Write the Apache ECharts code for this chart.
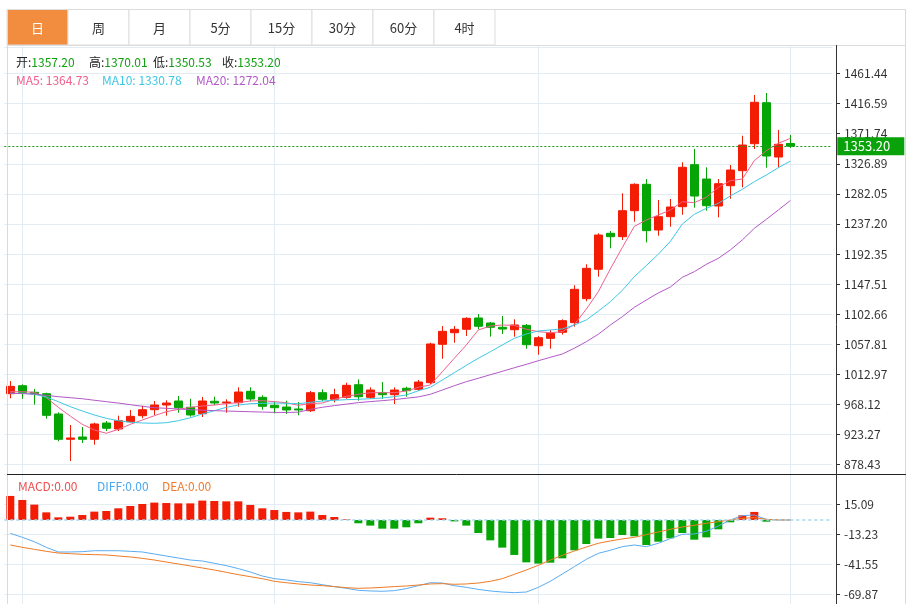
<!DOCTYPE html>
<html><head><meta charset="utf-8">
<script src="https://cdn.jsdelivr.net/npm/echarts@6/dist/echarts.min.js"></script>
<style>html,body{margin:0;padding:0;background:#fff}#c{width:912px;height:604px}</style>
</head><body><div id="c"></div>
<script>
const tabs = ['日','周','月','5分','15分','30分','60分','4时'];
const categories = ['1','2','3','4','5','6','7','8','9','10','11','12','13','14','15','16','17','18','19','20','21','22','23','24','25','26','27','28','29','30','31','32','33','34','35','36','37','38','39','40','41','42','43','44','45','46','47','48','49','50','51','52','53','54','55','56','57','58','59','60','61','62','63','64','65','66'];
const monthLines = [1, 22, 44, 65];
const priceTicks = ['878.43','923.27','968.12','1012.97','1057.81','1102.66','1147.51','1192.35','1237.20','1282.05','1326.89','1371.74','1416.59','1461.44'];
const macdTicks = ['-69.87','-41.55','-13.23','15.09'];

const opens = [983.8,995.7,985.9,983.8,953.5,915.7,919.2,915.7,940.0,931.1,942.0,951.0,959.9,966.9,972.9,963.5,953.9,972.5,969.9,970.4,987.4,978.4,966.5,963.9,961.0,958.4,985.3,975.4,978.4,997.2,978.4,985.3,982.3,991.9,990.3,1000.2,1057.5,1074.8,1079.9,1096.8,1089.3,1082.9,1079.3,1085.8,1055.4,1066.4,1075.4,1089.8,1125.6,1169.5,1223.2,1218.1,1256.9,1296.3,1228.1,1248.0,1262.9,1325.6,1304.2,1263.9,1294.2,1316.6,1356.9,1418.1,1337.0,1357.20];
const closes = [994.8,985.8,983.3,951.5,915.7,917.7,915.7,938.6,932.2,943.5,950.0,959.9,966.9,969.9,962.9,952.0,972.9,969.9,971.4,986.3,975.9,965.0,962.9,959.5,959.5,985.3,975.4,982.3,996.3,979.3,989.3,982.3,989.3,988.3,1001.2,1058.0,1076.9,1079.9,1096.3,1084.4,1082.9,1080.3,1086.3,1056.9,1067.4,1073.9,1092.8,1139.6,1170.9,1220.6,1218.1,1256.9,1296.3,1227.1,1248.0,1262.4,1321.7,1278.8,1264.4,1297.2,1317.6,1354.9,1418.7,1338.5,1356.0,1353.20];
const lows = [976.9,976.3,967.5,946.5,912.8,883.3,910.2,907.7,928.1,928.1,941.1,947.1,952.0,951.0,955.4,949.5,949.0,966.5,955.4,964.4,972.5,959.9,954.5,953.5,951.5,956.5,972.5,970.9,976.3,973.4,976.3,976.3,968.4,979.3,988.3,998.2,1036.0,1059.9,1069.9,1079.9,1068.9,1072.9,1068.9,1050.9,1042.0,1050.9,1071.9,1083.8,1121.7,1158.4,1200.8,1213.2,1240.5,1209.7,1219.6,1233.0,1250.9,1261.4,1256.9,1247.0,1274.8,1291.8,1349.0,1321.1,1321.7,1350.53];
const highs = [1002.7,997.8,990.8,985.3,956.0,937.1,934.1,940.5,943.0,951.0,959.5,965.9,972.9,973.9,980.4,976.3,978.9,979.3,975.4,993.3,993.3,981.4,972.5,973.4,971.4,987.8,990.3,991.2,1000.2,1005.2,993.3,1001.2,993.3,994.2,1004.2,1059.9,1084.8,1084.8,1097.8,1102.7,1090.8,1099.7,1094.8,1087.8,1069.9,1078.8,1094.8,1145.6,1176.9,1223.2,1226.6,1282.9,1297.8,1304.2,1272.9,1274.4,1329.2,1349.0,1321.7,1304.2,1325.1,1368.8,1429.6,1432.6,1377.4,1370.01];

const ma5 = [986.8,986.8,985.9,977.9,963.5,950.3,938.1,929.6,924.7,930.6,938.1,944.5,950.9,956.9,960.4,963.5,965.4,966.9,968.9,970.4,972.9,973.4,971.9,970.4,966.5,968.9,969.9,975.4,979.8,982.9,985.3,985.3,985.3,987.8,993.3,996.8,1016.6,1036.6,1056.5,1078.9,1084.8,1086.3,1085.8,1079.9,1076.4,1074.8,1076.4,1087.0,1110.0,1136.0,1170.0,1202.0,1233.5,1243.0,1250.5,1257.9,1270.3,1268.8,1276.9,1291.8,1301.7,1304.2,1331.5,1346.4,1357.5,1364.73];
const ma10 = [984.4,984.4,982.9,978.9,971.9,964.4,958.0,952.0,947.1,943.5,941.1,940.1,939.6,940.5,943.5,947.9,953.5,958.4,963.5,966.9,968.9,969.4,969.9,969.4,968.9,970.9,972.9,973.9,974.9,975.4,976.3,977.4,979.3,981.9,988.2,993.3,1004.2,1015.1,1026.1,1036.6,1046.4,1056.5,1066.4,1072.9,1077.4,1078.9,1080.4,1086.3,1093.8,1107.0,1121.0,1138.0,1158.4,1175.0,1192.0,1211.0,1237.0,1251.5,1260.4,1267.9,1278.9,1288.8,1300.2,1310.2,1321.1,1330.78];
const ma20 = [984.4,983.9,983.3,981.3,979.3,977.8,976.3,974.0,971.9,969.8,967.4,965.0,962.9,962.0,961.0,960.0,959.2,958.5,957.9,957.4,956.9,956.4,955.9,955.8,956.2,960.5,963.5,966.0,968.2,970.5,972.0,973.4,975.0,977.0,979.0,982.9,989.3,995.7,1001.7,1006.8,1012.1,1017.2,1022.5,1027.6,1033.0,1038.1,1043.0,1051.6,1061.4,1072.5,1086.3,1098.7,1112.7,1123.6,1134.1,1143.0,1157.5,1165.9,1176.9,1185.8,1198.3,1213.2,1230.6,1244.0,1257.9,1272.04];

const macdHist = [22.7,18.9,14.5,7.2,2.5,3.1,4.7,7.9,8.5,11.0,13.2,15.1,16.4,16.0,15.7,15.7,18.3,17.9,17.6,17.6,14.2,11.0,9.4,7.6,7.2,7.9,4.7,2.8,0.6,-3.1,-5.3,-8.2,-8.2,-6.9,-3.1,2.2,1.6,-1.3,-5.3,-12.3,-19.2,-26.1,-33.0,-40.0,-41.2,-40.3,-36.2,-28.6,-22.7,-17.6,-17.0,-14.2,-15.4,-23.6,-20.5,-17.3,-12.3,-18.6,-16.4,-8.8,-2.2,4.4,7.6,-1.6,0,0];
const diff = [-12.6,-16.4,-20.5,-25.8,-30.2,-30.2,-29.9,-29.0,-29.0,-29.0,-29.6,-30.2,-32.1,-34.0,-35.9,-37.8,-38.7,-40.9,-43.1,-45.9,-49.1,-52.9,-55.4,-56.6,-58.2,-59.2,-61.1,-62.9,-64.5,-66.4,-67.0,-67.3,-66.7,-64.8,-62.0,-59.2,-59.5,-62.0,-63.6,-65.5,-67.0,-68.0,-68.6,-68.0,-63.6,-57.9,-51.0,-44.1,-37.1,-31.5,-28.6,-25.2,-23.6,-25.2,-22.0,-17.6,-13.5,-13.2,-10.7,-5.7,0,4.1,4.7,0.6,0,0];
const dea = [-23.6,-25.8,-27.7,-29.6,-31.2,-31.8,-32.4,-32.7,-33.0,-34.0,-34.9,-36.2,-37.8,-39.7,-41.5,-43.4,-45.3,-47.2,-49.4,-51.6,-53.5,-55.4,-57.9,-59.2,-60.4,-61.4,-62.0,-62.9,-63.9,-64.5,-64.2,-63.6,-62.9,-62.3,-61.4,-60.4,-60.1,-60.7,-60.4,-59.5,-57.9,-55.4,-51.3,-47.2,-42.8,-37.8,-33.4,-29.3,-25.5,-22.0,-19.8,-17.9,-16.4,-13.8,-11.3,-8.8,-6.6,-5.0,-3.1,-1.6,0,1.6,2.2,0.6,0,0];

const RED = '#f31c05', GREEN = '#05a505';
const C_MA5 = '#f0608c', C_MA10 = '#3cc8e4', C_MA20 = '#b458c8';
const C_DIFF = '#5aacf2', C_DEA = '#f07b24';
const FONT = '"Microsoft YaHei","Noto Sans CJK SC","Noto Sans",sans-serif';
const last = closes.length - 1;

const xCats = categories.concat([' ', '  ', '   ']);
const candleData = opens.map((o, i) => [o, closes[i], lows[i], highs[i]]);

const chart = echarts.init(document.getElementById('c'), null, {renderer: 'canvas'});

const gridL = 4.3, slot = 12;
const graphics = [];
// tabs
tabs.forEach((t, i) => {
  graphics.push({type: 'rect', shape: {x: 7 + 61 * i, y: 9.5, width: 61, height: 35.5},
    style: {fill: i === 0 ? '#f28c3e' : '#fff', stroke: '#dddddd', lineWidth: 1}, z: 10});
  graphics.push({type: 'text', x: 7 + 61 * i + 30.5, y: 28, z: 11,
    style: {text: t, fill: i === 0 ? '#fff' : '#333', font: '13px ' + FONT, align: 'center', verticalAlign: 'middle'}});
});
const frame = [[7, 9.5, 906, 9.5, '#dddddd'], [7, 45.5, 906, 45.5, '#dddddd'], [7.5, 9.5, 7.5, 604, '#d5dbe1'],
  [905.5, 9.5, 905.5, 604, '#d5dbe1'], [7, 474.5, 906, 474.5, '#222'], [836.5, 45, 836.5, 604, '#333']];
frame.forEach(f => graphics.push({type: 'line', shape: {x1: f[0], y1: f[1], x2: f[2], y2: f[3]}, style: {stroke: f[4], lineWidth: 1}, z: 12}));
// info rows
const ohlc = [['开', opens[last], 16], ['高', highs[last], 89], ['低', lows[last], 153], ['收', closes[last], 222]];
ohlc.forEach(r => graphics.push({type: 'text', x: r[2], y: 62, z: 12, style: {
  text: '{a|' + r[0] + ':}{b|' + r[1].toFixed(2) + '}', font: '12px ' + FONT, verticalAlign: 'middle',
  rich: {a: {fill: '#222', font: '12px ' + FONT}, b: {fill: '#12a012', font: '12px ' + FONT}}}}));
const maInfo = [['MA5: ', ma5[last], 16, C_MA5], ['MA10: ', ma10[last], 102, C_MA10], ['MA20: ', ma20[last], 196, C_MA20]];
maInfo.forEach(r => graphics.push({type: 'text', x: r[2], y: 80, z: 12, style: {
  text: r[0] + r[1].toFixed(2), fill: r[3], font: '12px ' + FONT, verticalAlign: 'middle'}}));
const macdInfo = [['MACD:', macdHist[last], 18, '#ee5050'], ['DIFF:', diff[last], 97, '#4aa8f0'], ['DEA:', dea[last], 162, '#f07a30']];
macdInfo.forEach(r => graphics.push({type: 'text', x: r[2], y: 486, z: 12, style: {
  text: r[0] + r[1].toFixed(2), fill: r[3], font: '12px ' + FONT, verticalAlign: 'middle'}}));

const axisLabelStyle = {color: '#333', fontSize: 12, fontFamily: FONT, margin: 8};
const splitStyle = {lineStyle: {color: '#e4ecf3', width: 1}};

chart.setOption({
  animation: false,
  backgroundColor: '#fff',
  grid: [
    {left: gridL, width: slot * 69, top: 47, height: 417.3},
    {left: gridL, width: slot * 69, top: 474, height: 120},
    {left: gridL + slot / 2, width: slot * 65, top: 45, height: 559}
  ],
  xAxis: [
    {type: 'category', gridIndex: 0, data: xCats, boundaryGap: true, axisLine: {show: false}, axisTick: {show: false}, axisLabel: {show: false}, splitLine: {show: false}},
    {type: 'category', gridIndex: 1, data: xCats, boundaryGap: true, axisLine: {show: false}, axisTick: {show: false}, axisLabel: {show: false}, splitLine: {show: false}},
    {type: 'category', gridIndex: 2, data: categories, boundaryGap: false, axisLine: {show: false}, axisTick: {show: false}, axisLabel: {show: false},
      splitLine: {show: true, interval: (idx) => monthLines.indexOf(idx) >= 0, lineStyle: {color: '#e4ecf3', width: 1}}}
  ],
  yAxis: [
    {type: 'value', gridIndex: 0, position: 'right', offset: 3.7, min: 878.43, max: 1501.21, interval: 44.8469,
      axisLine: {show: false}, axisTick: {show: true, length: 4, lineStyle: {color: '#333'}},
      axisLabel: Object.assign({}, axisLabelStyle, {showMaxLabel: false, formatter: (v, i) => priceTicks[i] || ''}),
      splitLine: splitStyle},
    {type: 'value', gridIndex: 1, position: 'right', offset: 3.7, min: -69.87, max: 43.41, interval: 28.32,
      axisLine: {show: false}, axisTick: {show: true, length: 4, lineStyle: {color: '#333'}},
      axisLabel: Object.assign({}, axisLabelStyle, {showMaxLabel: false, formatter: (v, i) => macdTicks[i] || ''}),
      splitLine: splitStyle},
    {type: 'value', gridIndex: 2, show: false, min: 0, max: 1}
  ],
  graphic: {elements: graphics},
  series: [
    {type: 'line', xAxisIndex: 2, yAxisIndex: 2, data: [], silent: true},
    {name: 'K', type: 'candlestick', xAxisIndex: 0, yAxisIndex: 0, data: candleData, barWidth: 9,
      itemStyle: {color: RED, color0: GREEN, borderColor: RED, borderColor0: GREEN, borderWidth: 1},
      markLine: {silent: true, symbol: ['none', 'none'], animation: false,
        data: [{yAxis: closes[last]}],
        lineStyle: {color: '#1a9e1a', type: [2, 2], width: 1},
        label: {show: true, position: 'end', distance: 5, formatter: (p) => Number(p.value).toFixed(2),
          backgroundColor: '#0aa20a', color: '#fff', fontSize: 13, fontFamily: FONT,
          padding: [3, 6, 2, 6], width: 55, lineHeight: 13}}},
    {name: 'MA5', type: 'line', xAxisIndex: 0, yAxisIndex: 0, data: ma5, showSymbol: false, lineStyle: {color: C_MA5, width: 1}, z: 3},
    {name: 'MA10', type: 'line', xAxisIndex: 0, yAxisIndex: 0, data: ma10, showSymbol: false, lineStyle: {color: C_MA10, width: 1}, z: 3},
    {name: 'MA20', type: 'line', xAxisIndex: 0, yAxisIndex: 0, data: ma20, showSymbol: false, lineStyle: {color: C_MA20, width: 1}, z: 3},
    {name: 'MACD', type: 'bar', xAxisIndex: 1, yAxisIndex: 1, barWidth: 8,
      data: macdHist.map(v => ({value: v, itemStyle: {color: v >= 0 ? RED : GREEN}})),
      markLine: {silent: true, symbol: ['none', 'none'], animation: false, data: [{yAxis: 0}],
        lineStyle: {color: '#a6d6f0', type: [3, 3], width: 1.5}, label: {show: false}}},
    {name: 'DIFF', type: 'line', xAxisIndex: 1, yAxisIndex: 1, data: diff, showSymbol: false, lineStyle: {color: C_DIFF, width: 1}, z: 3},
    {name: 'DEA', type: 'line', xAxisIndex: 1, yAxisIndex: 1, data: dea, showSymbol: false, lineStyle: {color: C_DEA, width: 1}, z: 3}
  ]
});
</script></body></html>
